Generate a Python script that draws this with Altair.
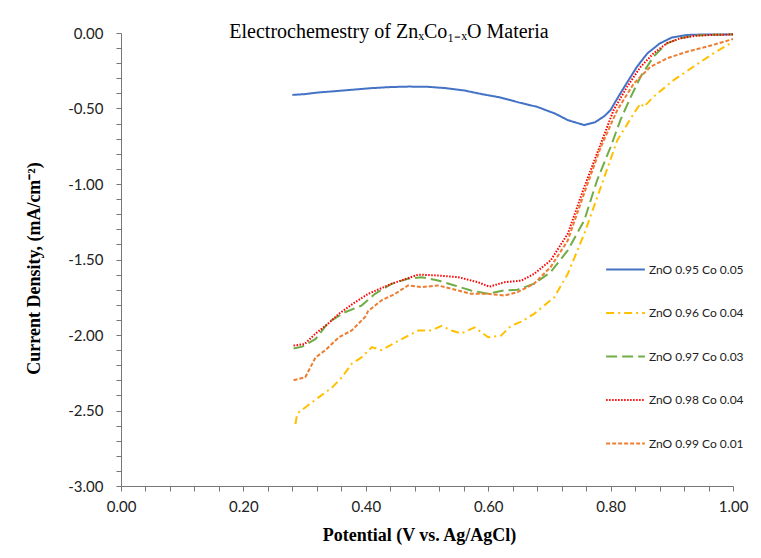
import altair as alt
import pandas as pd

title_text = "Electrochemestry of ZnₓCo₁₋ₓO Materia"
series_names = ["ZnO 0.95 Co 0.05", "ZnO 0.96 Co 0.04", "ZnO 0.97 Co 0.03",
                "ZnO 0.98 Co 0.04", "ZnO 0.99 Co 0.01"]
series_colors = ["#4472C4", "#FFC000", "#70AD47", "#FF0000", "#ED7D31"]
series_dashes = [[1, 0], [8, 4, 2, 4], [11, 5], [1.5, 1.5], [4, 2]]

x_095 = [0.28, 0.30, 0.32, 0.35, 0.38, 0.41, 0.44, 0.47, 0.50, 0.53, 0.56, 0.59, 0.62,
         0.65, 0.68, 0.71, 0.73, 0.757, 0.775, 0.79, 0.80, 0.81, 0.822, 0.843, 0.86,
         0.88, 0.90, 0.925, 0.95, 1.00]
y_095 = [-0.41, -0.405, -0.395, -0.385, -0.375, -0.365, -0.358, -0.355, -0.356, -0.365,
         -0.38, -0.405, -0.427, -0.46, -0.489, -0.535, -0.577, -0.61, -0.59, -0.55, -0.51,
         -0.44, -0.36, -0.224, -0.135, -0.07, -0.03, -0.013, -0.01, -0.009]

x_096 = [0.285, 0.288, 0.301, 0.323, 0.345, 0.361, 0.377, 0.393, 0.41, 0.426, 0.448, 0.464,
         0.486, 0.507, 0.524, 0.54, 0.556, 0.578, 0.60, 0.621, 0.637, 0.655, 0.675, 0.69,
         0.708, 0.73, 0.757, 0.784, 0.811, 0.838, 0.849, 0.854, 0.87, 0.903, 0.935, 0.968, 1.0]
y_096 = [-2.59, -2.52, -2.48, -2.413, -2.347, -2.28, -2.19, -2.148, -2.08, -2.10, -2.05,
         -2.015, -1.97, -1.97, -1.94, -1.97, -1.99, -1.95, -2.015, -2.004, -1.94, -1.91,
         -1.86, -1.81, -1.75, -1.595, -1.33, -1.02, -0.71, -0.533, -0.466, -0.49, -0.423,
         -0.312, -0.224, -0.135, -0.058]

x_097 = [0.282, 0.296, 0.318, 0.339, 0.366, 0.393, 0.415, 0.442, 0.469, 0.491, 0.518, 0.545,
         0.572, 0.60, 0.626, 0.648, 0.675, 0.702, 0.73, 0.757, 0.778, 0.80, 0.816, 0.833,
         0.849, 0.87, 0.892, 0.914, 0.935, 0.96, 1.0]
y_097 = [-2.09, -2.077, -2.026, -1.916, -1.849, -1.805, -1.727, -1.661, -1.628, -1.617,
         -1.639, -1.672, -1.705, -1.727, -1.705, -1.70, -1.66, -1.584, -1.44, -1.24, -0.975,
         -0.755, -0.577, -0.423, -0.29, -0.157, -0.068, -0.035, -0.018, -0.012, -0.01]

x_098 = [0.282, 0.30, 0.318, 0.337, 0.356, 0.38, 0.404, 0.442, 0.486, 0.518, 0.551, 0.583,
         0.602, 0.627, 0.654, 0.675, 0.702, 0.73, 0.757, 0.784, 0.805, 0.827, 0.849, 0.87,
         0.892, 0.914, 0.94, 0.97, 1.0]
y_098 = [-2.07, -2.06, -1.99, -1.93, -1.86, -1.79, -1.727, -1.661, -1.60, -1.606, -1.617,
         -1.65, -1.68, -1.65, -1.64, -1.595, -1.506, -1.33, -1.02, -0.732, -0.51, -0.356,
         -0.224, -0.135, -0.068, -0.035, -0.018, -0.012, -0.01]

x_099 = [0.282, 0.301, 0.318, 0.334, 0.356, 0.377, 0.399, 0.404, 0.426, 0.448, 0.469, 0.491,
         0.518, 0.54, 0.572, 0.60, 0.626, 0.648, 0.675, 0.702, 0.73, 0.757, 0.784, 0.811,
         0.838, 0.865, 0.892, 0.925, 0.957, 1.0]
y_099 = [-2.30, -2.28, -2.148, -2.10, -2.015, -1.97, -1.88, -1.84, -1.77, -1.727, -1.672,
         -1.683, -1.672, -1.694, -1.727, -1.727, -1.739, -1.716, -1.66, -1.55, -1.374, -1.06,
         -0.755, -0.51, -0.334, -0.224, -0.168, -0.124, -0.091, -0.04]

x_ticks = [round(i * 0.04, 2) for i in range(26)]
y_ticks = [round(-i * 0.1, 1) for i in range(31)]

xs = [x_095, x_096, x_097, x_098, x_099]
ys = [y_095, y_096, y_097, y_098, y_099]
rows = []
for name, xv, yv in zip(series_names, xs, ys):
    for i, (a, b) in enumerate(zip(xv, yv)):
        rows.append({"series": name, "V": a, "J": b, "i": i})
df = pd.DataFrame(rows)

label_font = "Lato"
serif = "Liberation Serif"

lines = alt.Chart(df).mark_line(strokeWidth=2).encode(
    x=alt.X("V:Q", scale=alt.Scale(domain=[0, 1], nice=False, zero=False),
            axis=alt.Axis(title="Potential (V vs. Ag/AgCl)", values=x_ticks,
                          labelExpr="abs(datum.value*5 - round(datum.value*5)) < 0.001 ? replace(format(datum.value, '.2f'), '\u2212', '-') : ''",
                          grid=False, tickSize=5, labelPadding=8,
                          titleX=298, titleY=54, titleBaseline="alphabetic",
                          labelFont=label_font, labelFontSize=15, labelColor="#222",
                          titleFont=serif, titleFontSize=18, titleFontWeight="bold",
                          titleColor="#000", domainColor="#777", tickColor="#777",
                          labelFlush=False, labelOverlap=False)),
    y=alt.Y("J:Q", scale=alt.Scale(domain=[-3, 0], nice=False, zero=False),
            axis=alt.Axis(title="Current Density, (mA/cm⁻²)", values=y_ticks,
                          labelExpr="abs(datum.value*2 - round(datum.value*2)) < 0.001 ? replace(format(datum.value, '.2f'), '\u2212', '-') : ''",
                          grid=False, tickSize=5, labelPadding=13,
                          titleX=-87, titleY=235, titleBaseline="middle", titleAlign="center",
                          labelFont=label_font, labelFontSize=15, labelColor="#222",
                          titleFont=serif, titleFontSize=18, titleFontWeight="bold",
                          titleColor="#000", domainColor="#777", tickColor="#777",
                          labelFlush=False, labelOverlap=False)),
    color=alt.Color("series:N", scale=alt.Scale(domain=series_names, range=series_colors),
                    legend=alt.Legend(title=None, orient="none", legendX=484, legendY=216,
                                      symbolType="stroke", symbolSize=1500,
                                      symbolStrokeWidth=2, rowPadding=16.5,
                                      labelFont=label_font, labelFontSize=12,
                                      labelColor="#222", labelOffset=3, padding=0)),
    strokeDash=alt.StrokeDash("series:N", scale=alt.Scale(domain=series_names, range=series_dashes),
                              legend=None),
    order="i:Q",
)

title = alt.Chart(pd.DataFrame({"t": [title_text]})).mark_text(
    font=serif, fontSize=20, color="#000", align="center", baseline="alphabetic"
).encode(text="t:N", x=alt.value(268), y=alt.value(5))

chart = alt.layer(lines, title).properties(
    width=612, height=453,
    padding={"left": 113, "top": 25, "right": 20, "bottom": 62},
    autosize=alt.AutoSizeParams(type="none"),
).configure_view(stroke=None)

chart.save("out.html", embed_options={"renderer": "svg", "actions": False})
